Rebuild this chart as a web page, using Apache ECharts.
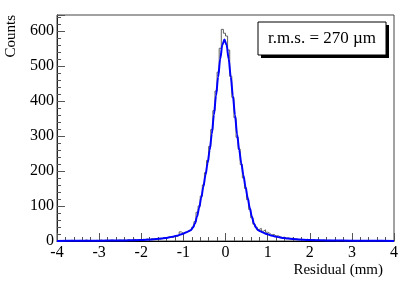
<!DOCTYPE html>
<html><head><meta charset="utf-8">
<script src="https://cdn.jsdelivr.net/npm/echarts@6/dist/echarts.min.js"></script>
<style>html,body{margin:0;padding:0;background:#fff}#c{width:415px;height:281px}</style>
</head><body><div id="c"></div>
<script>
// ---- data ----
const HIST_MIN = -4, BIN_WIDTH = 0.05;
const histCounts = [
  0,1,0,2,1,0,2,1,0,1, 2,0,1,3,1,2,0,1,2,1, 3,1,2,2,1,3,2,1,2,3,
  2,3,1,4,2,3,5,2,4,3, 5,4,6,3,7,5,6,8,5,7,
  10,8,11,12,10,14,13,16,26,22,
  24,27,30,33,40,55,82,100,128,160,
  195,230,270,318,372,428,482,550,604,593,
  585,545,470,410,352,296,262,218,180,150,
  118,90,66,48,40,33,36,28,32,25,
  22,17,19,14,15,12,10,11,8,9,
  6,8,5,6,4,5,3,4,5,2, 3,4,2,3,1,2,3,1,2,2,
  1,2,0,1,2,1,0,1,1,2, 0,1,0,2,1,0,1,0,1,1, 0,2,1,0,1,0,0,1,0,1
];
const fitX = [-4,-3.5,-3,-2.5,-2,-1.75,-1.525,-1.425,-1.325,-1.225,-1.125,-1.025,-0.925,-0.875,-0.825,
  -0.775,-0.725,-0.675,-0.625,-0.575,-0.525,-0.475,-0.425,-0.375,-0.325,-0.275,-0.225,-0.175,-0.125,-0.075,
  -0.025,0.025,0.075,0.125,0.175,0.225,0.275,0.325,0.375,0.425,0.475,0.525,0.575,0.625,0.675,0.725,0.775,
  0.825,0.875,0.975,1.075,1.175,1.275,1.375,1.475,1.725,1.975,2.5,3,3.5,4];
const fitY = [0.3,0.5,0.8,1.5,3,4.5,7,8.5,10.5,13,16,20,25,28,31,
  38,50,70,95,124,155,188,222,260,305,360,415,468,520,560,
  575,560,520,468,415,360,305,260,222,188,155,124,95,70,50,38,31,
  28,25,20,16,13,10.5,8.5,7,4.5,3,1.5,0.8,0.5,0.3];
const xRange = [-4, 4];
const yRange = [0, 645];
const xTitle = 'Residual (mm)';
const yTitle = 'Counts';
const legendText = 'r.m.s. = 270 \u00B5m';

// ---- build series ----
const histData = histCounts.map((c, i) => [HIST_MIN + i * BIN_WIDTH, c]);
histData.push([HIST_MIN + histCounts.length * BIN_WIDTH, histCounts[histCounts.length - 1]]);
const fitData = fitX.map((x, i) => [x, fitY[i]]);

const FONT = 'Liberation Serif';
const chart = echarts.init(document.getElementById('c'), null, {renderer: 'canvas'});
chart.setOption({
  animation: false,
  backgroundColor: '#fff',
  grid: {left: 57, right: 21, top: 15, bottom: 40, show: true, borderColor: '#444', borderWidth: 1,
         containLabel: false, outerBoundsMode: 'none'},
  xAxis: {
    type: 'value', min: xRange[0], max: xRange[1], interval: 1,
    name: xTitle, nameLocation: 'end', nameGap: -11,
    nameTextStyle: {fontFamily: FONT, fontSize: 15, color: '#000', align: 'right', verticalAlign: 'top', padding: [22, 0, 0, 0]},
    axisLine: {show: true, onZero: false, lineStyle: {color: '#000', width: 1}},
    axisTick: {show: true, inside: true, length: 8, lineStyle: {color: '#555'}},
    minorTick: {show: true, splitNumber: 5, length: 4, lineStyle: {color: '#555'}},
    axisLabel: {fontFamily: FONT, fontSize: 16, color: '#000', margin: 4},
    splitLine: {show: false}
  },
  yAxis: {
    type: 'value', min: yRange[0], max: yRange[1], interval: 100,
    name: yTitle, nameLocation: 'end', nameGap: 0, nameRotate: 90,
    nameTextStyle: {fontFamily: FONT, fontSize: 15, color: '#000', align: 'right', verticalAlign: 'bottom', padding: [0, 0, 38, 0]},
    axisLine: {show: true, onZero: false, lineStyle: {color: '#222', width: 1}},
    axisTick: {show: true, inside: true, length: 8, lineStyle: {color: '#555'}},
    minorTick: {show: true, splitNumber: 5, length: 4, lineStyle: {color: '#555'}},
    axisLabel: {fontFamily: FONT, fontSize: 16, color: '#000', margin: 3, showMaxLabel: false},
    splitLine: {show: false}
  },
  series: [
    {type: 'line', data: histData, step: 'end', symbol: 'none', clip: true,
     lineStyle: {color: '#606060', width: 1}, z: 2},
    {type: 'line', data: fitData, smooth: 0.3, smoothMonotone: 'x', symbol: 'none', clip: true,
     lineStyle: {color: '#0000ff', width: 2}, z: 3}
  ],
  graphic: [
    {type: 'rect', shape: {x: 261, y: 25, width: 128, height: 33}, style: {fill: '#000'}, z: 10},
    {type: 'rect', shape: {x: 258, y: 22, width: 128, height: 33}, style: {fill: '#fff', stroke: '#000', lineWidth: 1}, z: 11},
    {type: 'text', x: 322, y: 39, z: 12,
     style: {text: legendText, fontFamily: FONT, fontSize: 17, fill: '#000', align: 'center', verticalAlign: 'middle'}}
  ]
});
</script></body></html>
